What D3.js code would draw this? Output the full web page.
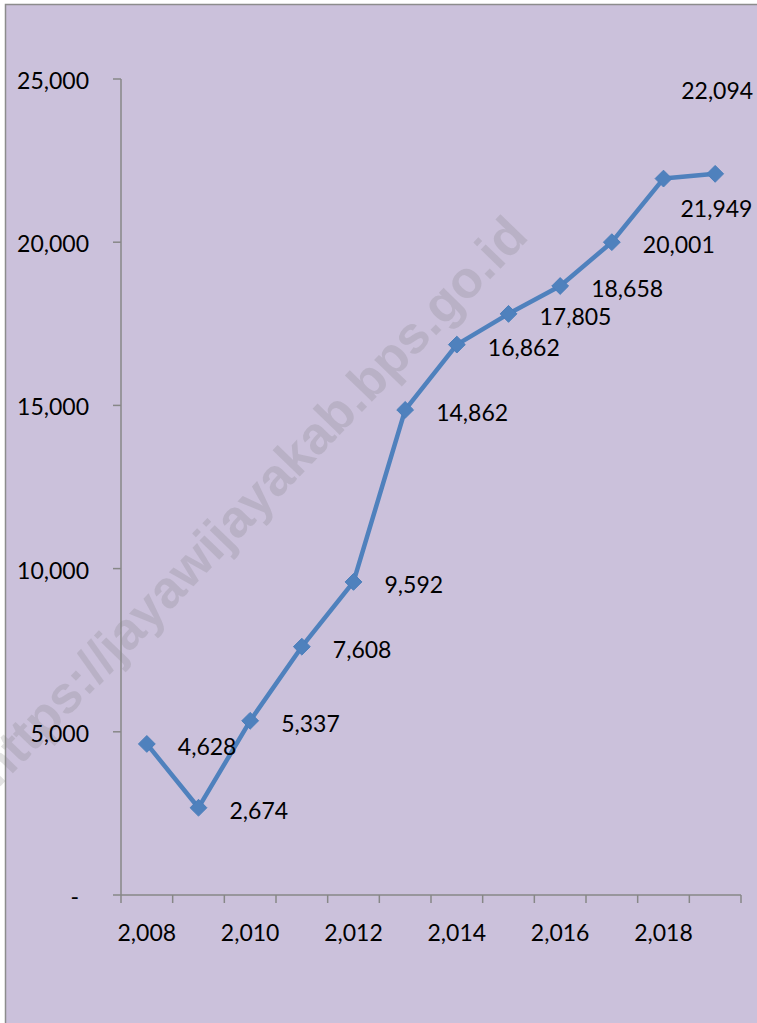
<!DOCTYPE html>
<html><head><meta charset="utf-8">
<script src="https://cdn.jsdelivr.net/npm/d3@7"></script>
<style>html,body{margin:0;padding:0;background:#fff;}svg{display:block;}</style>
</head><body>
<script>
const years = [2008,2009,2010,2011,2012,2013,2014,2015,2016,2017,2018,2019];
const values = [4628,2674,5337,7608,9592,14862,16862,17805,18658,20001,21949,22094];
const labelPos = ["right","right","right","right","right","right","right","right","right","right","belowRight","farAbove"];
const yTicks = [0,5000,10000,15000,20000,25000];
const xTickLabelYears = [2008,2010,2012,2014,2016,2018];
const watermark = "https://jayawijayakab.bps.go.id";

(function(){
const W = 757, H = 1023;
const svg = d3.select("body").append("svg").attr("width", W).attr("height", H);
const font = "Lato, 'Open Sans', sans-serif";
const fs = 23;

svg.append("rect").attr("x",5.5).attr("y",4.5).attr("width",W+10).attr("height",H+10)
  .attr("fill","#cbc1db").attr("stroke","#8c8c8c").attr("stroke-width",1.5);

const pL = 121, pR = 741, pT = 79, pB = 895;
const x = d3.scaleBand().domain(years).range([pL,pR]).paddingInner(0).paddingOuter(0);
const y = d3.scaleLinear().domain([0,25000]).range([pB, pT]);

// watermark
svg.append("text").text(watermark)
  .attr("transform","translate(530,238) rotate(-46)")
  .attr("text-anchor","end")
  .attr("font-family","'Liberation Sans', Arial, sans-serif").attr("font-weight","bold")
  .attr("font-size",52).attr("fill","#7a7a7a").attr("fill-opacity",0.22);

const axisColor = "#878787";
// y axis
const gy = svg.append("g");
gy.append("line").attr("x1",pL).attr("x2",pL).attr("y1",pT).attr("y2",pB)
  .attr("stroke",axisColor).attr("stroke-width",1.5);
gy.selectAll("line.t").data(yTicks).enter().append("line").attr("class","t")
  .attr("x1",pL-8).attr("x2",pL).attr("y1",d=>y(d)).attr("y2",d=>y(d))
  .attr("stroke",axisColor).attr("stroke-width",1.5);
const fmt = d3.format(",");
gy.selectAll("text").data(yTicks).enter().append("text")
  .attr("x",d=> d===0 ? 79 : 89).attr("y",d=>y(d)+1)
  .attr("text-anchor","end").attr("dominant-baseline","central")
  .attr("font-family",font).attr("font-size",fs).attr("fill","#000")
  .text(d=> d===0 ? "-" : fmt(d));

// x axis
const gx = svg.append("g");
gx.append("line").attr("x1",pL).attr("x2",pR).attr("y1",pB).attr("y2",pB)
  .attr("stroke",axisColor).attr("stroke-width",1.5);
const boundaries = years.map(d=>x(d)).concat([x(years[years.length-1])+x.bandwidth()]);
gx.selectAll("line.t").data(boundaries).enter().append("line").attr("class","t")
  .attr("x1",d=>d).attr("x2",d=>d).attr("y1",pB).attr("y2",pB+8)
  .attr("stroke",axisColor).attr("stroke-width",1.5);
gx.selectAll("text").data(xTickLabelYears).enter().append("text")
  .attr("x",d=>x(d)+x.bandwidth()/2).attr("y",pB+37)
  .attr("text-anchor","middle").attr("dominant-baseline","central")
  .attr("font-family",font).attr("font-size",fs).attr("fill","#000")
  .text(d=>fmt(d));

// line
const data = years.map((yr,i)=>({yr, v: values[i], pos: labelPos[i]}));
const cx = d=>x(d.yr)+x.bandwidth()/2;
svg.append("path").datum(data)
  .attr("d", d3.line().x(cx).y(d=>y(d.v)))
  .attr("fill","none").attr("stroke","#4f81bd").attr("stroke-width",4.5)
  .attr("stroke-linejoin","round");
svg.selectAll("path.m").data(data).enter().append("path").attr("class","m")
  .attr("d", d3.symbol().type(d3.symbolDiamond2).size(180))
  .attr("transform", d=>`translate(${cx(d)},${y(d.v)})`)
  .attr("fill","#4f81bd").attr("stroke","#4a7ebb").attr("stroke-width",1);

// labels
svg.selectAll("text.lab").data(data).enter().append("text").attr("class","lab")
  .attr("x", d=> d.pos==="right" ? cx(d)+31 : d.pos==="belowRight" ? cx(d)+17 : cx(d)+2)
  .attr("y", d=> d.pos==="right" ? y(d.v)+2 : d.pos==="belowRight" ? y(d.v)+29 : y(d.v)-84)
  .attr("text-anchor", d=> d.pos==="farAbove" ? "middle" : "start")
  .attr("dominant-baseline","central")
  .attr("font-family",font).attr("font-size",fs).attr("fill","#000")
  .text(d=>fmt(d.v));
})();
</script>
</body></html>
